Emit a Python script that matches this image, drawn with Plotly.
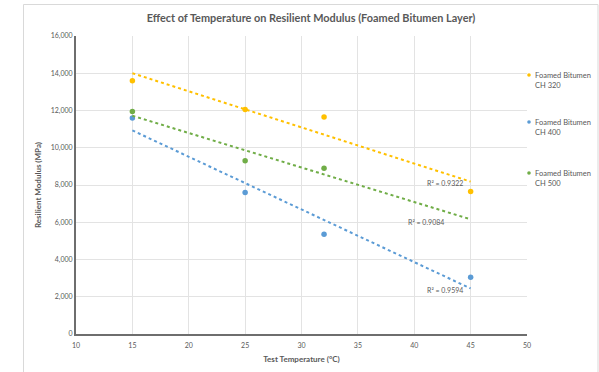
import numpy as np
import plotly.graph_objects as go

temps_320 = [15, 25, 32, 45]
mod_320 = [13600, 12050, 11650, 7650]
temps_400 = [15, 25, 32, 45]
mod_400 = [11600, 7600, 5350, 3050]
temps_500 = [15, 25, 32]
mod_500 = [11950, 9300, 8900]

names = ["Foamed Bitumen<br>CH 320", "Foamed Bitumen<br>CH 400", "Foamed Bitumen<br>CH 500"]
colors = ["#FFC000", "#5B9BD5", "#70AD47"]
r2_labels = ["R² = 0.9322", "R² = 0.9594", "R² = 0.9084"]
trend_range = [15, 45]

series = [(temps_320, mod_320), (temps_400, mod_400), (temps_500, mod_500)]

# plot area in pixels
L, R, T, B = 76, 527, 36, 334
W, H = R - L, B - T


def px_x(p):
    return (p - L) / W


def px_y(p):
    return (B - p) / H


FONT = "Lato"
TXT = "#595959"

fig = go.Figure()
for i, ((xs, ys), name, col) in enumerate(zip(series, names, colors)):
    fig.add_trace(go.Scatter(
        x=xs, y=ys, mode="markers", name=name,
        marker=dict(color=col, size=5.5),
        showlegend=False,
    ))
for i, ((xs, ys), col) in enumerate(zip(series, colors)):
    m, b = np.polyfit(xs, ys, 1)
    tx = np.array(trend_range, dtype=float)
    fig.add_trace(go.Scatter(
        x=tx, y=m * tx + b, mode="lines", showlegend=False,
        line=dict(color=col, width=2, dash="dot"), hoverinfo="skip",
    ))

# R² labels positions (data coords)
label_pos = [(42.7, 8100), (42.7, 2360), (41.0, 6010)]
for (lx, ly), txt in zip(label_pos, r2_labels):
    fig.add_annotation(x=lx, y=ly, text=txt, showarrow=False,
                       font=dict(size=7, color=TXT, family=FONT))

# legend (manual, right side)
legend_y = [75, 122, 173]
for name, col, ly in zip(names, colors, legend_y):
    fig.add_shape(type="circle", xref="paper", yref="paper",
                  x0=px_x(527.2), x1=px_x(530.8), y0=px_y(ly + 1.8), y1=px_y(ly - 1.8),
                  fillcolor=col, line=dict(width=0))
    fig.add_annotation(xref="paper", yref="paper", x=px_x(532.5), y=px_y(ly - 6),
                       xanchor="left", yanchor="top", align="left", showarrow=False,
                       text=name, font=dict(size=7.5, color=TXT, family=FONT))

grid = "#E3E3E3"
fig.update_layout(
    width=599, height=372,
    margin=dict(l=L, r=599 - R, t=T, b=372 - B, autoexpand=False),
    paper_bgcolor="white", plot_bgcolor="white",
    font=dict(family=FONT, color=TXT),
    showlegend=False,
    title=dict(text="<b>Effect of Temperature on Resilient Modulus (Foamed Bitumen Layer)</b>",
               x=311 / 599, xanchor="center", y=1 - 18 / 372, yanchor="middle",
               font=dict(size=10.9, color=TXT, family=FONT)),
    xaxis=dict(range=[10, 50], dtick=5, showgrid=True, gridcolor=grid, gridwidth=1,
               showline=True, linecolor="#6E6E6E", linewidth=2, zeroline=False,
               tickfont=dict(size=7, color=TXT), ticks="", ticklabelstandoff=4,
               title=dict(text="<b>Test Temperature (°C)</b>", font=dict(size=8, color=TXT), standoff=8)),
    yaxis=dict(range=[0, 16000], dtick=2000, tickformat=",", showgrid=True, gridcolor=grid, gridwidth=1,
               showline=True, linecolor="#6E6E6E", linewidth=2, zeroline=False,
               tickfont=dict(size=7, color=TXT), ticks="",
               title=dict(text="<b>Resilient Modulus (MPa)</b>", font=dict(size=8, color=TXT), standoff=8)),
)
# outer chart border
fig.add_shape(type="rect", xref="paper", yref="paper",
              x0=px_x(23.5), x1=px_x(598), y0=px_y(400), y1=px_y(4.5),
              line=dict(color="#D9D9D9", width=1), layer="below")

fig.write_html("out.html", config={"displayModeBar": False},
               post_script="document.body.style.margin='0';document.body.style.overflow='hidden';")
